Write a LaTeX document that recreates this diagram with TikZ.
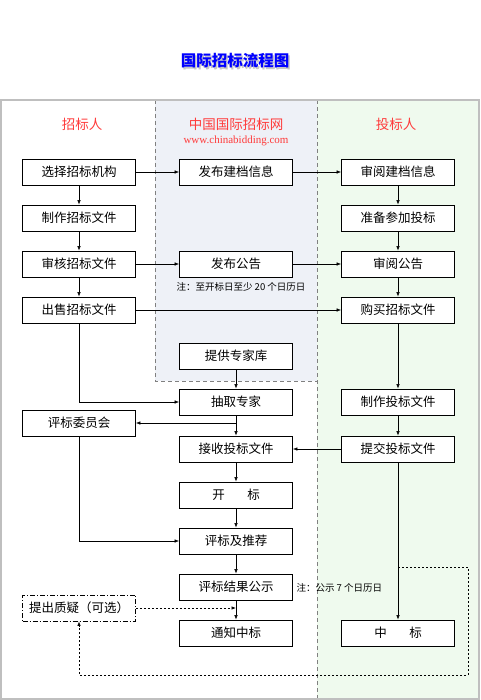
\documentclass[tikz,border=0pt]{standalone}
\usepackage{fontspec}
\setmainfont{Noto Sans CJK SC}
\newfontfamily\urlfont{Liberation Serif}
\usetikzlibrary{arrows.meta,positioning}
\definecolor{midbg}{HTML}{EEF1F7}
\definecolor{rightbg}{HTML}{EFFAEE}
\definecolor{headred}{HTML}{FF3B3B}

\begin{document}
\begin{tikzpicture}[x=1pt, y=-1pt, > = {Latex[length=4.5pt,width=3.5pt]},
    box/.style = {draw, line width=0.8pt, fill=white, minimum width=113pt, minimum height=26pt, inner sep=0pt, font=\fontsize{12.5}{14}\selectfont},
    flow/.style = {->, line width=0.6pt},
    lane/.style = {gray, line width=0.8pt, dash pattern=on 4pt off 3pt},
    qline/.style = {line width=0.7pt, dash pattern=on 2pt off 2pt},
    head/.style = {text=headred, font=\fontsize{13.5}{15}\selectfont},
    note/.style = {font=\fontsize{9.5}{11}\selectfont}]

    \useasboundingbox (0,0) rectangle (480,700);

    % lanes
    \fill[midbg] (155,100) rectangle (317,381);
    \fill[rightbg] (317,100) rectangle (479,699);
    \draw[lane] (155,100) -- (155,381) -- (317,381);
    \draw[lane] (317,100) -- (317,699);
    \draw[gray!50, line width=1.5pt] (1,100) rectangle (479,699);

    % title
    \node[text=gray!45, font=\fontsize{15.5}{17}\selectfont\bfseries] at (236.5,62.5) {国际招标流程图};
    \node[text=blue, font=\fontsize{15.5}{17}\selectfont\bfseries] (title) at (235,61) {国际招标流程图};

    % headers
    \node[head] (hzb) at (82,124) {招标人};
    \node[head] (hwang) at (236,124) {中国国际招标网};
    \node[head, font=\urlfont\fontsize{11}{12}\selectfont] (hurl) at (236,141) {www.chinabidding.com};
    \node[head] (htb) at (396,124) {投标人};

    % tenderee
    \node[box] (sel) at (79,172) {选择招标机构};
    \node[box] (zhizuo) at (79,218) {制作招标文件};
    \node[box] (shenhe) at (79,264) {审核招标文件};
    \node[box] (chushou) at (79,310) {出售招标文件};
    \node[box] (pwh) at (79,423) {评标委员会};
    \node[box, solid, dash pattern=on 5pt off 2pt on 1pt off 2pt] (zhiyi) at (79,608) {提出质疑（可选）};

    % website
    \node[box] (fbjd) at (236,172) {发布建档信息};
    \node[box] (fbgg) at (236,264) {发布公告};
    \node[note] (n1) at (241,287) {注：至开标日至少 20 个日历日};
    \node[box] (zjk) at (236,356) {提供专家库};
    \node[box] (cqzj) at (236,402) {抽取专家};
    \node[box] (jsts) at (236,449) {接收投标文件};
    \node[box] (kb) at (236,495) {开\hspace{1.8em}标};
    \node[box] (pbtj) at (236,541) {评标及推荐};
    \node[box] (gs) at (236,587) {评标结果公示};
    \node[note, anchor=west] (n2) at (293,588) {注：公示 7 个日历日};
    \node[box] (tz) at (236,633) {通知中标};

    % bidder
    \node[box] (syjd) at (398,172) {审阅建档信息};
    \node[box] (zbcj) at (398,218) {准备参加投标};
    \node[box] (sygg) at (398,264) {审阅公告};
    \node[box] (gm) at (398,310) {购买招标文件};
    \node[box] (zzts) at (398,402) {制作投标文件};
    \node[box] (tjts) at (398,449) {提交投标文件};
    \node[box] (zb) at (398,633) {中\hspace{1.8em}标};

    % connectors
    \draw[flow] (sel) -- (fbjd);
    \draw[flow] (fbjd) -- (syjd);
    \draw[flow] (sel) -- (zhizuo);
    \draw[flow] (zhizuo) -- (shenhe);
    \draw[flow] (shenhe) -- (chushou);
    \draw[flow] (shenhe) -- (fbgg);
    \draw[flow] (fbgg) -- (sygg);
    \draw[flow] (chushou) -- (gm);
    \draw[flow] (syjd) -- (zbcj);
    \draw[flow] (zbcj) -- (sygg);
    \draw[flow] (sygg) -- (gm);
    \draw[flow] (gm) -- (zzts);
    \draw[flow] (zzts) -- (tjts);
    \draw[flow] (chushou) |- (cqzj);
    \draw[flow] (zjk) -- (cqzj);
    \draw[flow] (cqzj) -- (jsts);
    \draw[flow] (cqzj.south |- pwh.east) -- (pwh);
    \draw[flow] (tjts) -- (jsts);
    \draw[flow] (jsts) -- (kb);
    \draw[flow] (kb) -- (pbtj);
    \draw[flow] (pwh) |- (pbtj);
    \draw[flow] (pbtj) -- (gs);
    \draw[flow] (gs) -- (tz);
    \draw[flow] (tjts) -- (zb);

    % objection
    \coordinate (split) at (398,567);
    \draw[qline, ->] (split) -| (468,675) -| (zhiyi);
    \draw[qline, ->] (zhiyi) -- (gs.south |- zhiyi);
\end{tikzpicture}
\end{document}
